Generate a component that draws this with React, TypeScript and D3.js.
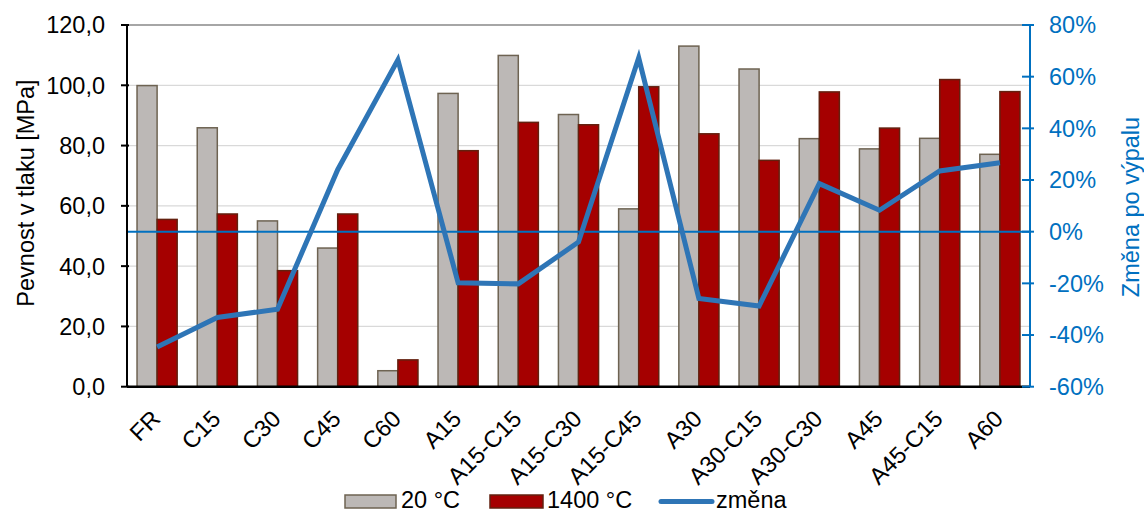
import React from "react";
import * as d3 from "d3";

const categories = ["FR", "C15", "C30", "C45", "C60", "A15", "A15-C15", "A15-C30", "A15-C45", "A30", "A30-C15", "A30-C30", "A45", "A45-C15", "A60"];
const values20 = [99.9, 85.9, 55.0, 46.0, 5.3, 97.3, 109.9, 90.3, 59.0, 113.0, 105.4, 82.3, 78.9, 82.4, 77.1];
const values1400 = [55.5, 57.3, 38.5, 57.3, 8.9, 78.3, 87.7, 86.9, 99.5, 83.9, 75.1, 97.8, 85.8, 101.9, 97.9];
const changePct = [-44.6, -33.2, -30.0, 24.0, 66.5, -19.8, -20.2, -4.0, 67.3, -25.9, -28.8, 18.6, 8.3, 23.5, 26.7];
const leftTicks = [0, 20, 40, 60, 80, 100, 120];
const rightTicks = [-60, -40, -20, 0, 20, 40, 60, 80];
const seriesNames = ["20 °C", "1400 °C", "změna"];

const W = 1144, H = 513;
const L = 127, R = 1030, T = 25, B = 386.7;
const FONT = "'Liberation Sans', Arial, sans-serif";
const FS = 23.5;

export default function App() {
  const x = d3.scaleBand<string>().domain(categories).range([L, R]).paddingInner(1 / 3).paddingOuter(1 / 6);
  const y = d3.scaleLinear().domain([0, 120]).range([B, T]);
  const y2 = d3.scaleLinear().domain([-60, 80]).range([B, T]);
  const bw = x.bandwidth() / 2;
  const line = d3.line<number>().x((_, i) => x(categories[i])! + x.bandwidth() / 2).y((d) => y2(d));
  const fmt = (v: number) => v.toFixed(1).replace(".", ",");

  return (
    <svg width={W} height={H} style={{ position: "absolute", left: 0, top: 0, background: "#fff" }} fontFamily={FONT}>
      {/* gridlines */}
      {leftTicks.filter((t) => t > 0 && t < 120).map((t) => (
        <line key={t} x1={L} x2={R} y1={y(t)} y2={y(t)} stroke="#d9d9d9" strokeWidth={1.2} />
      ))}
      <line x1={L} x2={R} y1={y(120)} y2={y(120)} stroke="#898989" strokeWidth={1.5} />
      {/* bars */}
      {categories.map((c, i) => (
        <g key={c}>
          <rect x={x(c)!} y={y(values20[i])} width={bw} height={B - y(values20[i])} fill="#bcb8b6" stroke="#6e6352" strokeWidth={1.5} />
          <rect x={x(c)! + bw} y={y(values1400[i])} width={bw} height={B - y(values1400[i])} fill="#a50000" stroke="#63200f" strokeWidth={1.5} />
        </g>
      ))}
      {/* zero line of right axis */}
      <line x1={L} x2={R} y1={y2(0)} y2={y2(0)} stroke="#0070c0" strokeWidth={2} />
      {/* change line */}
      <path d={line(changePct)!} fill="none" stroke="#2e75b6" strokeWidth={5} strokeLinejoin="miter" />
      {/* axes */}
      <line x1={L} x2={L} y1={T} y2={B} stroke="#000" strokeWidth={2} />
      {leftTicks.map((t) => (
        <g key={t}>
          <line x1={L - 6} x2={L + 2} y1={y(t)} y2={y(t)} stroke="#000" strokeWidth={2} />
          <text x={L - 22} y={y(t)} dy="0.36em" textAnchor="end" fontSize={FS} fill="#000">{fmt(t)}</text>
        </g>
      ))}
      <line x1={L} x2={R} y1={B} y2={B} stroke="#000" strokeWidth={2.5} />
      <line x1={R} x2={R} y1={T} y2={B} stroke="#0070c0" strokeWidth={2} />
      {rightTicks.map((t) => (
        <g key={t}>
          <line x1={R - 8} x2={R + 4} y1={y2(t)} y2={y2(t)} stroke="#0070c0" strokeWidth={2} />
          <text x={R + 19} y={y2(t)} dy="0.36em" textAnchor="start" fontSize={FS} fill="#0070c0">{t}%</text>
        </g>
      ))}
      {/* x labels */}
      {categories.map((c) => {
        const cx = x(c)! + x.bandwidth() / 2;
        return (
          <text key={c} transform={`translate(${cx - 7},${B + 22}) rotate(-45)`} textAnchor="end" dy="0.7em" fontSize={FS} fill="#000">{c}</text>
        );
      })}
      {/* axis titles */}
      <text transform={`translate(34,193) rotate(-90)`} textAnchor="middle" fontSize={FS} fill="#000">Pevnost v tlaku [MPa]</text>
      <text transform={`translate(1139,207) rotate(-90)`} textAnchor="middle" fontSize={FS} fill="#0070c0">Změna po výpalu</text>
      {/* legend */}
      <rect x={345} y={495} width={51} height={13} fill="#bcb8b6" stroke="#6e6352" strokeWidth={1.5} />
      <text x={401} y={508} fontSize={FS} fill="#000">{seriesNames[0]}</text>
      <rect x={490} y={495} width={53} height={13} fill="#a50000" stroke="#63200f" strokeWidth={1.5} />
      <text x={547} y={508} fontSize={FS} fill="#000">{seriesNames[1]}</text>
      <line x1={661} x2={712} y1={501.5} y2={501.5} stroke="#2e75b6" strokeWidth={5} strokeLinecap="round" />
      <text x={716} y={508} fontSize={FS} fill="#000">{seriesNames[2]}</text>
    </svg>
  );
}
